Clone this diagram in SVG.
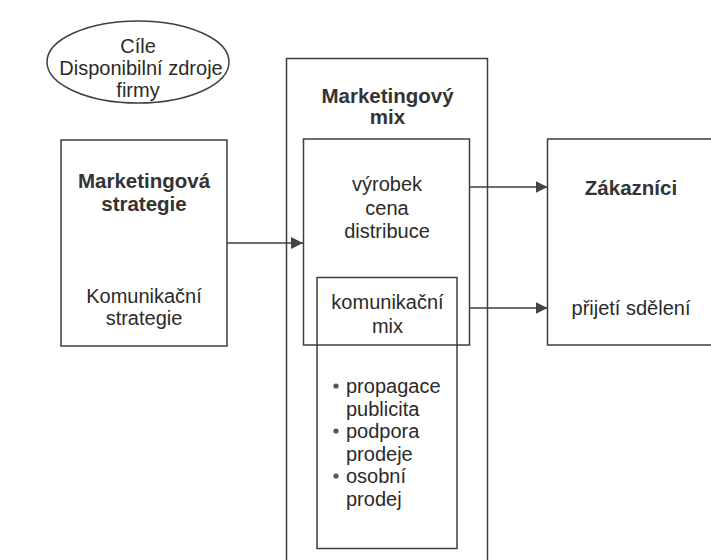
<svg xmlns="http://www.w3.org/2000/svg" width="711" height="560" viewBox="0 0 711 560">
  <defs>
    <style>
      .box { fill: none; stroke: #3f3f3f; stroke-width: 1.5; }
      .conn { fill: none; stroke: #3f3f3f; stroke-width: 1.5; }
      .t { font-family: "Liberation Sans", Arial, sans-serif; font-size: 20px; fill: #2a2a2a; text-anchor: middle; }
      .b { font-family: "Liberation Sans", Arial, sans-serif; font-size: 20.5px; font-weight: bold; fill: #333333; text-anchor: middle; }
      .l { font-family: "Liberation Sans", Arial, sans-serif; font-size: 20px; fill: #2a2a2a; }
    </style>
    <marker id="arrow" markerUnits="userSpaceOnUse" markerWidth="13" markerHeight="12" refX="12" refY="6" orient="auto">
      <path d="M0,0 L12,6 L0,12 Z" fill="#444444"/>
    </marker>
  </defs>
  <rect width="711" height="560" fill="#ffffff"/>

  <g id="cile">
    <ellipse cx="138" cy="62" rx="91" ry="41" class="box"/>
    <text class="t" x="138" y="53">Cíle</text>
    <text class="t" x="141" y="75">Disponibilní zdroje</text>
    <text class="t" x="138" y="97">firmy</text>
  </g>

  <g id="marketingova-strategie">
    <rect x="61" y="140" width="166" height="206" class="box"/>
    <text class="b" x="144" y="188">Marketingová</text>
    <text class="b" x="144" y="211">strategie</text>
    <text class="t" x="144" y="303">Komunikační</text>
    <text class="t" x="144" y="325">strategie</text>
  </g>

  <g id="marketingovy-mix">
    <rect x="286.5" y="58.5" width="201" height="520" class="box"/>
    <text class="b" x="387.5" y="103">Marketingový</text>
    <text class="b" x="387.5" y="124">mix</text>
  </g>

  <g id="vyrobek">
    <rect x="303.5" y="139" width="166" height="206" class="box"/>
    <text class="t" x="387" y="191">výrobek</text>
    <text class="t" x="387" y="215">cena</text>
    <text class="t" x="387" y="238">distribuce</text>
  </g>

  <g id="komunikacni-mix">
    <rect x="317" y="277.5" width="140" height="271" class="box"/>
    <text class="t" x="387.5" y="309">komunikační</text>
    <text class="t" x="387.5" y="333">mix</text>
    <circle cx="336" cy="386" r="2.6" fill="#555555"/>
    <text class="l" x="346" y="393">propagace</text>
    <text class="l" x="346" y="415.5">publicita</text>
    <circle cx="336" cy="431" r="2.6" fill="#555555"/>
    <text class="l" x="346" y="438">podpora</text>
    <text class="l" x="346" y="460.5">prodeje</text>
    <circle cx="336" cy="476" r="2.6" fill="#555555"/>
    <text class="l" x="346" y="483">osobní</text>
    <text class="l" x="346" y="505.5">prodej</text>
  </g>

  <g id="zakaznici">
    <rect x="547.5" y="139" width="175" height="206" class="box"/>
    <text class="b" x="631" y="195">Zákazníci</text>
    <text class="t" x="631" y="315">přijetí sdělení</text>
  </g>

  <g id="connectors">
    <line x1="227" y1="243" x2="303" y2="243" class="conn" marker-end="url(#arrow)"/>
    <line x1="470" y1="187" x2="547.5" y2="187" class="conn" marker-end="url(#arrow)"/>
    <line x1="470" y1="308" x2="547.5" y2="308" class="conn" marker-end="url(#arrow)"/>
  </g>
</svg>
